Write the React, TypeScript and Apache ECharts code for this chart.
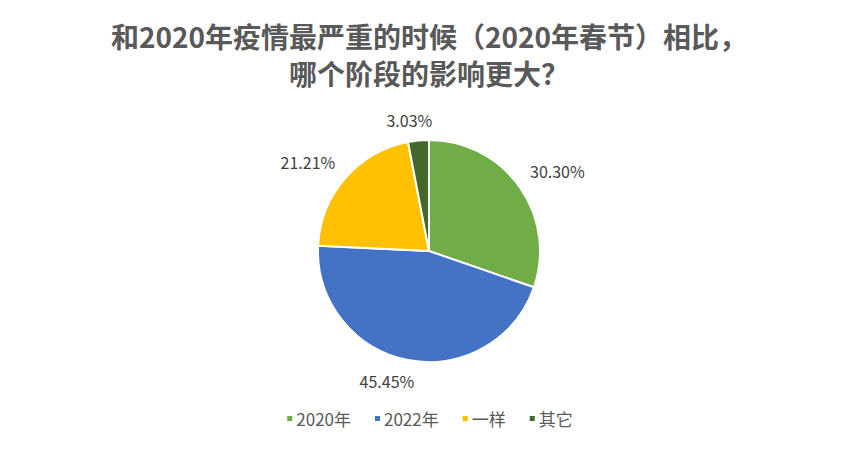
import { useEffect, useRef } from 'react';
import * as echarts from 'echarts';

const categories = ['2020年', '2022年', '一样', '其它'];
const values = [10, 15, 7, 1];
const colors = ['#70AD47', '#4472C4', '#FFC000', '#43682B'];
const titleLines = ['和2020年疫情最严重的时候（2020年春节）相比，', '哪个阶段的影响更大？'];

const font = '"Noto Sans CJK SC", "Liberation Sans", sans-serif';
const pieCenter = [429, 251];
const pieRadius = 111;
const labelGap = 13;

export default function App() {
  const ref = useRef<HTMLDivElement>(null);

  useEffect(() => {
    document.body.style.margin = '0';
    if (!ref.current) return;
    const chart = echarts.init(ref.current, undefined, { renderer: 'svg' });
    const total = values.reduce((a, b) => a + b, 0);
    const titleStyle = {
      fontFamily: font,
      fontSize: 28,
      fontWeight: 'bold',
      color: '#595959',
      lineHeight: 30,
    };
    const clamp = (v: number) => Math.max(0, Math.min(1, v));
    chart.setOption({
      animation: false,
      backgroundColor: '#ffffff',
      title: [
        { text: titleLines[0], left: 'center', top: 16, padding: 5, textStyle: titleStyle },
        { text: titleLines[1], left: 'center', top: 53, padding: 5, textStyle: titleStyle },
      ],
      legend: {
        data: categories,
        bottom: 17,
        left: 'center',
        icon: 'rect',
        itemWidth: 7,
        itemHeight: 7,
        itemGap: 22,
        textStyle: { fontFamily: font, fontSize: 17, color: '#595959', padding: [0, 0, 0, -2] },
      },
      series: [
        {
          type: 'pie',
          center: pieCenter,
          radius: pieRadius,
          startAngle: 90,
          clockwise: true,
          itemStyle: { borderColor: '#ffffff', borderWidth: 2 },
          label: {
            show: true,
            position: 'outside',
            formatter: (p: any) => ((p.value / total) * 100).toFixed(2) + '%',
            fontFamily: font,
            fontSize: 16,
            color: '#404040',
          },
          labelLine: { show: false, length: 14, length2: 0 },
          // Excel-like: the label box touches a point on the slice bisector just outside the pie
          labelLayout: (p: any) => {
            const i = p.dataIndex;
            const before = values.slice(0, i).reduce((a, b) => a + b, 0);
            const mid = ((before + values[i] / 2) / total) * Math.PI * 2;
            const s = Math.sin(mid);
            const c = Math.cos(mid);
            const w = p.labelRect.width;
            const h = p.labelRect.height;
            const r = pieRadius + labelGap;
            const px = pieCenter[0] + r * s;
            const py = pieCenter[1] - r * c;
            const f = clamp(0.5 - 1.8 * s);
            const g = clamp(0.5 + 1.8 * c);
            return {
              x: px + (0.5 - f) * w,
              y: py + (0.5 - g) * h,
              align: 'center',
              verticalAlign: 'middle',
            };
          },
          data: categories.map((name, i) => ({
            name,
            value: values[i],
            itemStyle: { color: colors[i] },
          })),
        },
      ],
    });
    return () => chart.dispose();
  }, []);

  return <div ref={ref} style={{ width: 858, height: 449 }} />;
}
